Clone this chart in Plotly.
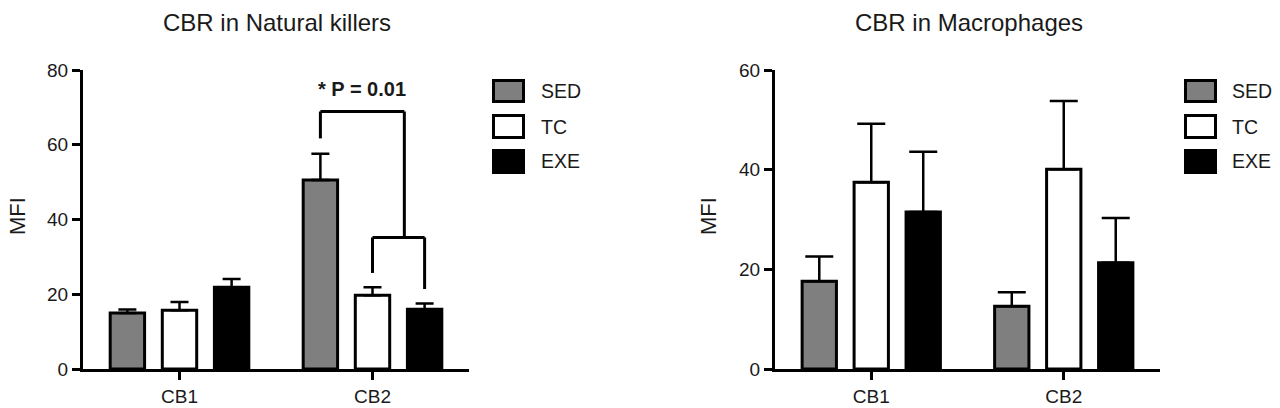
import plotly.graph_objects as go

W, H = 1280, 408

groups = ["CB1", "CB2"]
series = ["SED", "TC", "EXE"]
fills = ["#7f7f7f", "#ffffff", "#000000"]

# CBR in Natural killers (mean MFI and SEM)
nk_sed = [15.0, 50.6]
nk_sed_err = [0.9, 7.0]
nk_tc = [15.7, 19.7]
nk_tc_err = [2.2, 2.2]
nk_exe = [21.9, 16.0]
nk_exe_err = [2.2, 1.5]

# CBR in Macrophages
mac_sed = [17.6, 12.6]
mac_sed_err = [5.0, 2.8]
mac_tc = [37.5, 40.1]
mac_tc_err = [11.7, 13.7]
mac_exe = [31.5, 21.3]
mac_exe_err = [12.1, 9.0]

# significance brackets (left panel, CB2)
p_text = "* P = 0.01"
p_text_y = 74.8
outer_top = 68.9
outer_left_end = 61.7
inner_top = 35.2
inner_left_end = 25.7
inner_right_end = 21.4

FONT = "Liberation Sans, Arial, sans-serif"
INK = "#1a1a1a"
tick_font = dict(family=FONT, size=19, color=INK)
title_font = dict(family=FONT, size=24, color=INK)

bargap = 0.19
slot = (1 - bargap) / 3


def px_x(v):
    return v / W


def px_y(v):
    return 1 - v / H


fig = go.Figure()

panels = [
    ("x", "y", [nk_sed, nk_tc, nk_exe], [nk_sed_err, nk_tc_err, nk_exe_err], 9),
    ("x2", "y2", [mac_sed, mac_tc, mac_exe], [mac_sed_err, mac_tc_err, mac_exe_err], 14),
]
for xa, ya, vals, errs, capw in panels:
    for name, fill, v, e in zip(series, fills, vals, errs):
        fig.add_trace(go.Bar(
            x=groups, y=v, name=name, xaxis=xa, yaxis=ya,
            marker=dict(color=fill, line=dict(color="black", width=3)),
            error_y=dict(type="data", array=e, arrayminus=[0] * len(e), symmetric=False,
                         color="black", thickness=2.5, width=capw),
            showlegend=False,
        ))

axis_common = dict(showline=True, linewidth=3, linecolor="black", ticks="outside",
                   ticklen=8, tickwidth=3, tickcolor="black", showgrid=False,
                   zeroline=False, tickfont=tick_font, fixedrange=True, automargin=False)
ydom = [px_y(369), px_y(70)]

fig.update_layout(
    width=W, height=H,
    margin=dict(l=0, r=0, t=0, b=0),
    paper_bgcolor="white", plot_bgcolor="white",
    barmode="group", bargap=bargap, bargroupgap=0.34,
    xaxis=dict(domain=[px_x(83), px_x(469)], range=[-0.5, 1.5], anchor="y", **axis_common),
    yaxis=dict(domain=ydom, range=[0, 80], tickvals=[0, 20, 40, 60, 80], anchor="x", **axis_common),
    xaxis2=dict(domain=[px_x(775), px_x(1160)], range=[-0.5, 1.5], anchor="y2", **axis_common),
    yaxis2=dict(domain=ydom, range=[0, 60], tickvals=[0, 20, 40, 60], anchor="x2", **axis_common),
)

# bracket lines from bar centres of CB2
sed_x = 1 - slot
tc_x = 1
exe_x = 1 + slot
mid_x = (tc_x + exe_x) / 2 + 0.03
segs = [
    (sed_x, outer_left_end, sed_x, outer_top),
    (sed_x, outer_top, mid_x, outer_top),
    (mid_x, outer_top, mid_x, inner_top),
    (tc_x, inner_left_end, tc_x, inner_top),
    (tc_x, inner_top, exe_x, inner_top),
    (exe_x, inner_top, exe_x, inner_right_end),
]
for x0, y0, x1, y1 in segs:
    fig.add_shape(type="line", xref="x", yref="y", x0=x0, y0=y0, x1=x1, y1=y1,
                  line=dict(color="black", width=3))
fig.add_annotation(x=(sed_x + mid_x) / 2, y=p_text_y, xref="x", yref="y", text="<b>" + p_text + "</b>",
                   xanchor="center", yanchor="middle", showarrow=False,
                   font=dict(family=FONT, size=20, color=INK))

# titles and y-axis labels
for cx, txt in [(277, "CBR in Natural killers"), (969, "CBR in Macrophages")]:
    fig.add_annotation(x=px_x(cx), y=px_y(22), xref="paper", yref="paper", text=txt,
                       xanchor="center", yanchor="middle", showarrow=False, font=title_font)
for cx in [17, 708]:
    fig.add_annotation(x=px_x(cx), y=px_y(216), xref="paper", yref="paper", text="MFI",
                       textangle=-90, xanchor="center", yanchor="middle", showarrow=False,
                       font=dict(family=FONT, size=22, color=INK))

# legend boxes
box_rows = [(79, 103), (114, 139), (149, 174)]
for bx, tx in [(492, 539), (1184, 1230)]:
    for name, fill, (t, b) in zip(series, fills, box_rows):
        fig.add_shape(type="rect", xref="paper", yref="paper",
                      x0=px_x(bx + 1.5), x1=px_x(bx + 33 - 1.5), y0=px_y(b - 1.5), y1=px_y(t + 1.5),
                      fillcolor=fill, line=dict(color="black", width=3))
        fig.add_annotation(x=px_x(tx), y=px_y((t + b) / 2), xref="paper", yref="paper",
                           text=name, xanchor="left", yanchor="middle", showarrow=False,
                           font=dict(family=FONT, size=19.5, color=INK))

fig.write_html("out.html", config={"displayModeBar": False},
               post_script="document.body.style.margin='0';")
